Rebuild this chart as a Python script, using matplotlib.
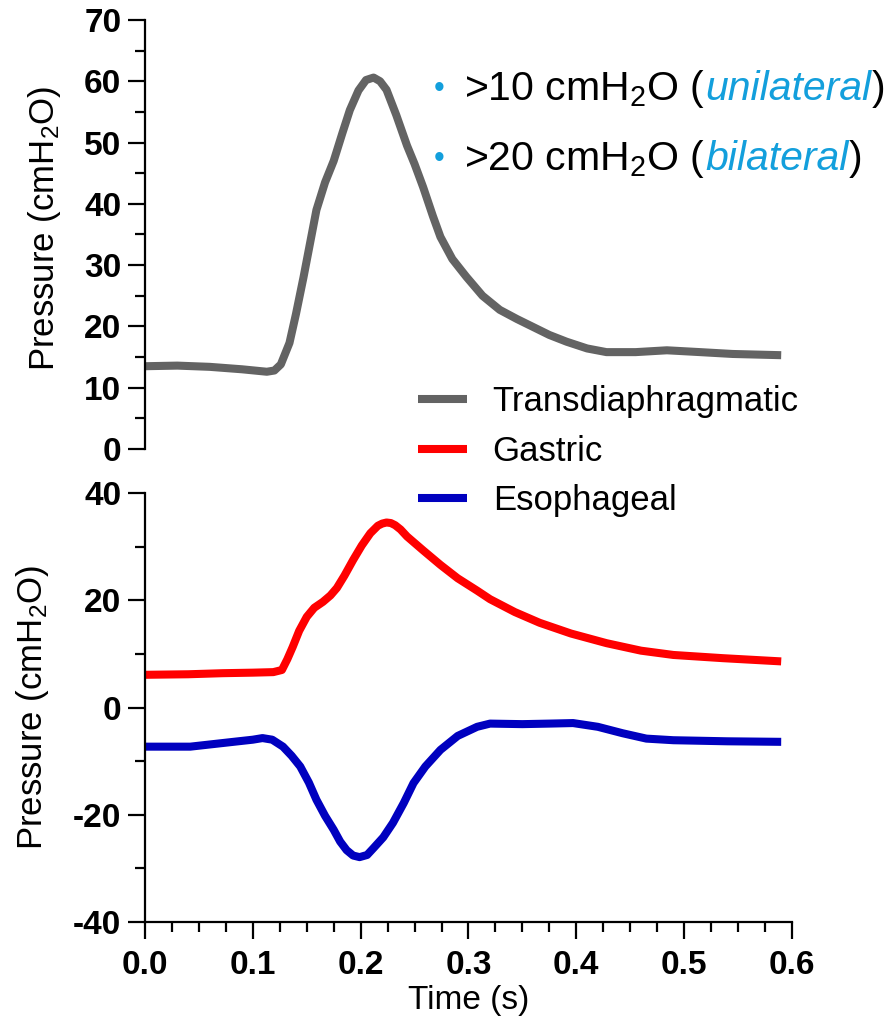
"""Trans-diaphragmatic, gastric and esophageal pressure traces."""

import matplotlib

matplotlib.use("Agg")
from matplotlib import pyplot as plt
from matplotlib.ticker import MultipleLocator

plt.rcParams["font.family"] = ["Liberation Sans", "DejaVu Sans"]
plt.rcParams["mathtext.default"] = "regular"
plt.rcParams["axes.unicode_minus"] = False

# Transdiaphragmatic pressure (top panel)
pdi_time = [0.000, 0.030, 0.060, 0.090, 0.113, 0.120, 0.126, 0.134, 0.140, 0.147,
            0.153, 0.159, 0.167, 0.175, 0.183, 0.190, 0.198, 0.205, 0.212, 0.218,
            0.224, 0.233, 0.243, 0.250, 0.258, 0.267, 0.274, 0.285, 0.298, 0.313,
            0.329, 0.345, 0.360, 0.375, 0.391, 0.410, 0.428, 0.455, 0.484, 0.515,
            0.545, 0.590]
pdi_values = [13.5, 13.6, 13.4, 13.0, 12.6, 12.8, 13.8, 17.3, 22.0, 28.0,
              33.5, 39.0, 43.5, 47.0, 51.5, 55.3, 58.5, 60.2, 60.6, 60.0,
              58.6, 54.5, 49.5, 46.5, 42.7, 38.0, 34.6, 31.0, 28.1, 25.0,
              22.7, 21.2, 19.9, 18.6, 17.5, 16.4, 15.8, 15.8, 16.1, 15.8,
              15.5, 15.3]

# Gastric pressure (bottom panel)
gas_time = [0.000, 0.040, 0.072, 0.100, 0.119, 0.127, 0.132, 0.137, 0.143, 0.150,
            0.157, 0.165, 0.172, 0.178, 0.185, 0.193, 0.201, 0.209, 0.216, 0.220,
            0.224, 0.228, 0.232, 0.237, 0.243, 0.258, 0.274, 0.290, 0.308, 0.320,
            0.343, 0.366, 0.395, 0.428, 0.460, 0.490, 0.536, 0.590]
gas_values = [6.1, 6.2, 6.4, 6.5, 6.6, 7.0, 9.0, 11.3, 14.3, 16.9,
              18.6, 19.7, 20.9, 22.3, 24.6, 27.5, 30.2, 32.5, 33.9, 34.3,
              34.5, 34.4, 34.0, 33.2, 31.9, 29.3, 26.6, 24.1, 21.8, 20.2,
              17.8, 15.8, 13.8, 12.0, 10.6, 9.8, 9.2, 8.6]

# Esophageal pressure (bottom panel)
eso_time = [0.000, 0.042, 0.082, 0.100, 0.109, 0.118, 0.128, 0.136, 0.144, 0.152,
            0.159, 0.167, 0.175, 0.181, 0.187, 0.193, 0.199, 0.206, 0.212, 0.221,
            0.230, 0.240, 0.249, 0.260, 0.274, 0.290, 0.308, 0.320, 0.350, 0.375,
            0.397, 0.420, 0.443, 0.465, 0.490, 0.540, 0.590]
eso_values = [-7.3, -7.3, -6.4, -6.0, -5.7, -6.0, -7.3, -9.0, -11.0, -14.0,
              -17.2, -20.2, -22.8, -25.0, -26.6, -27.6, -27.9, -27.5, -26.2, -24.2,
              -21.5, -17.8, -14.1, -11.0, -7.9, -5.3, -3.6, -3.0, -3.1, -3.0,
              -2.9, -3.6, -4.8, -5.8, -6.1, -6.3, -6.4]

series_labels = ["Transdiaphragmatic", "Gastric", "Esophageal"]
series_colors = ["#636363", "#FF0000", "#0000BF"]
note_thresholds = [">10 cmH$_2$O (", ">20 cmH$_2$O ("]
note_kinds = ["unilateral", "bilateral"]

ACCENT = "#139FDC"
LINE_WIDTH = 5.8


def style_axis(axis, major, minor):
    axis.spines["top"].set_visible(False)
    axis.spines["right"].set_visible(False)
    for side in ("left", "bottom"):
        axis.spines[side].set_linewidth(1.6)
    axis.yaxis.set_major_locator(MultipleLocator(major))
    axis.yaxis.set_minor_locator(MultipleLocator(minor))
    axis.tick_params(which="major", direction="out", length=12, width=1.6,
                     labelsize=24, pad=5)
    axis.tick_params(which="minor", direction="out", length=7, width=1.6)
    for label in axis.get_yticklabels() + axis.get_xticklabels():
        label.set_fontweight("bold")
    axis.set_ylabel("Pressure (cmH$_2$O)", fontsize=25)


def draw_trace(axis, times, values, colour, label):
    line, = axis.plot(times, values, color=colour, lw=LINE_WIDTH, label=label,
                      solid_capstyle="butt", solid_joinstyle="round")
    return line


figure = plt.figure(figsize=(8.96, 10.34), dpi=100)
top = figure.add_axes([0.1618, 0.5658, 0.7221, 0.4149])
bottom = figure.add_axes([0.1618, 0.1083, 0.7221, 0.4149])

pdi_line = draw_trace(top, pdi_time, pdi_values, series_colors[0], series_labels[0])
gas_line = draw_trace(bottom, gas_time, gas_values, series_colors[1], series_labels[1])
eso_line = draw_trace(bottom, eso_time, eso_values, series_colors[2], series_labels[2])

for axis in (top, bottom):
    axis.set_xlim(0, 0.6)

top.set_ylim(0, 70)
style_axis(top, 10, 5)
top.spines["bottom"].set_visible(False)
top.tick_params(axis="x", which="both", bottom=False, labelbottom=False)
top.yaxis.set_label_coords(-0.127, 0.515)

bottom.set_ylim(-40, 40)
style_axis(bottom, 20, 10)
bottom.xaxis.set_major_locator(MultipleLocator(0.1))
bottom.xaxis.set_minor_locator(MultipleLocator(0.025))
bottom.xaxis.set_major_formatter(lambda value, _: f"{value:.1f}")
bottom.tick_params(axis="x", which="major", pad=8)
for label in bottom.get_xticklabels():
    label.set_fontweight("bold")
bottom.set_xlabel("Time (s)", fontsize=24, labelpad=3)
bottom.yaxis.set_label_coords(-0.145, 0.5)

figure.legend(handles=[pdi_line, gas_line, eso_line], loc="upper left",
              bbox_to_anchor=(418 / 896, 1 - 385 / 1034), frameon=False,
              fontsize=25, handlelength=1.4, handletextpad=0.75,
              labelspacing=0.48, borderpad=0, borderaxespad=0)

# Threshold notes: bullet, black text, blue italic word, closing bracket.
renderer = figure.canvas.get_renderer()
to_figure = figure.transFigure.inverted()
for row, (threshold, kind) in enumerate(zip(note_thresholds, note_kinds)):
    baseline = 1 - (100 + row * 70) / 1034
    figure.text(434 / 896, baseline + 0.003, "\u2022", color=ACCENT, fontsize=22,
                va="baseline")
    x_pos = 464 / 896
    chunks = [(threshold, "black", "normal"), (kind, ACCENT, "italic"),
              (")", "black", "normal")]
    for text, colour, style in chunks:
        piece = figure.text(x_pos, baseline, text, color=colour, style=style,
                            fontsize=29.5, va="baseline", ha="left")
        extent = piece.get_window_extent(renderer)
        x_pos = to_figure.transform((extent.x1, 0))[0]

figure.savefig("out.png", dpi=100)
plt.close(figure)
